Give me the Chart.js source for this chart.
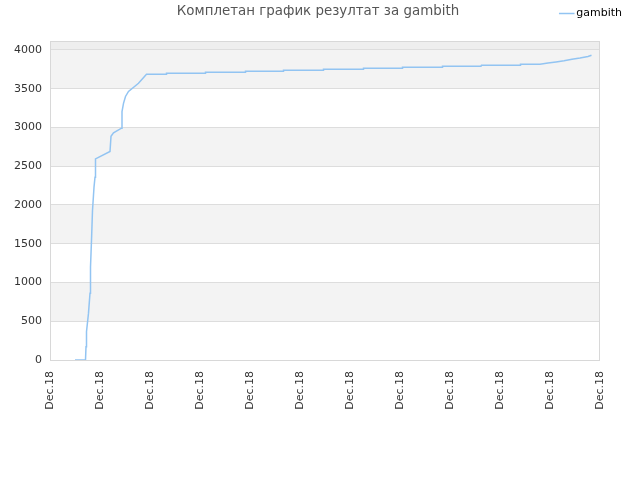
<!DOCTYPE html>
<html lang="sr">
<head>
    <meta charset="UTF-8">
    <title>Комплетан график резултат за gambith</title>
    <style>
        body { margin: 0; padding: 0; background: #ffffff; }
        #wrap { width: 640px; height: 480px; position: relative; }
    </style>
</head>
<body>
    <div id="wrap"><canvas id="scoreChart" width="640" height="480"></canvas></div>
    <script src="https://cdn.jsdelivr.net/npm/chart.js"></script>
    <script>
        // podaci procitani sa slike (x = pozicija u danima, y = rezultat)
        const chartTitle = 'Комплетан график резултат за gambith';
        const seriesName = 'gambith';
        const tickLabels = ['Dec.18', 'Dec.18', 'Dec.18', 'Dec.18', 'Dec.18', 'Dec.18',
                            'Dec.18', 'Dec.18', 'Dec.18', 'Dec.18', 'Dec.18', 'Dec.18'];
        const yTicks = [0, 500, 1000, 1500, 2000, 2500, 3000, 3500, 4000];
        const xValues = [0.5, 0.71, 0.72, 0.73, 0.77, 0.80, 0.81, 0.83, 0.85, 0.88, 0.90, 0.91,
                         1.20, 1.22, 1.27, 1.43, 1.44, 1.47, 1.51, 1.57, 1.77, 1.93,
                         2.32, 2.33, 3.10, 3.11, 3.90, 3.91, 4.66, 4.67, 5.46, 5.47, 6.26, 6.27,
                         7.04, 7.05, 7.84, 7.85, 8.62, 8.63, 9.40, 9.41, 9.80,
                         9.96, 10.12, 10.28, 10.44, 10.60, 10.76, 10.83];
        const yValues = [0, 0, 170, 364, 604, 862, 1200, 1543, 1929, 2229, 2358, 2594,
                         2690, 2885, 2930, 2990, 3205, 3310, 3400, 3465, 3570, 3687,
                         3687, 3700, 3700, 3712, 3712, 3725, 3725, 3738, 3738, 3751, 3751, 3764,
                         3764, 3777, 3777, 3790, 3790, 3803, 3803, 3816, 3816,
                         3830, 3845, 3860, 3880, 3895, 3915, 3931];

        const points = xValues.map((x, i) => ({ x: x, y: yValues[i] }));

        // trake u pozadini, okvir i naslov
        const bandsPlugin = {
            id: 'bands',
            beforeDraw(chart) {
                const ctx = chart.ctx;
                const area = chart.chartArea;
                const y = chart.scales.y;
                ctx.save();
                for (let v = 0; v < y.max; v += 500) {
                    const top = Math.max(y.getPixelForValue(Math.min(v + 500, y.max)), area.top);
                    const bottom = y.getPixelForValue(v);
                    let color = (v / 500) % 2 === 1 ? '#f3f3f3' : '#ffffff';
                    if (v >= 4000) color = '#eeeeee';
                    ctx.fillStyle = color;
                    ctx.fillRect(area.left, top, area.right - area.left, bottom - top);
                }
                ctx.restore();
            },
            afterDraw(chart) {
                const ctx = chart.ctx;
                const area = chart.chartArea;
                ctx.save();
                ctx.strokeStyle = '#d8d8d8';
                ctx.lineWidth = 1;
                ctx.strokeRect(area.left + 0.5, area.top + 0.5, area.right - area.left - 1, area.bottom - area.top);
                ctx.fillStyle = '#555555';
                ctx.font = '13.4px "DejaVu Sans", sans-serif';
                ctx.textAlign = 'center';
                ctx.textBaseline = 'middle';
                ctx.fillText(chartTitle, 318, 12);
                ctx.restore();
            }
        };

        const ctx = document.getElementById('scoreChart').getContext('2d');
        new Chart(ctx, {
            type: 'line',
            data: {
                datasets: [{
                    label: seriesName,
                    data: points,
                    borderColor: '#92c4f2',
                    backgroundColor: '#92c4f2',
                    borderWidth: 1.5,
                    pointRadius: 0,
                    tension: 0,
                    fill: false
                }]
            },
            plugins: [bandsPlugin],
            options: {
                responsive: false,
                animation: false,
                layout: { padding: { left: 0, right: 10, top: 0, bottom: 0 } },
                plugins: {
                    title: { display: false },
                    tooltip: { enabled: false },
                    legend: {
                        display: true,
                        position: 'top',
                        align: 'end',
                        labels: {
                            usePointStyle: true,
                            pointStyle: 'line',
                            boxWidth: 8,
                            color: '#000000',
                            padding: 8,
                            font: { family: '"DejaVu Sans", sans-serif', size: 11 }
                        }
                    }
                },
                scales: {
                    x: {
                        type: 'linear',
                        min: 0,
                        max: 11,
                        grid: { display: false },
                        border: { display: false },
                        afterFit(scale) { scale.height = 120; },
                        ticks: {
                            stepSize: 1,
                            maxRotation: 90,
                            minRotation: 90,
                            color: '#333333',
                            font: { family: '"DejaVu Sans", sans-serif', size: 11 },
                            callback: (value) => tickLabels[value]
                        }
                    },
                    xTop: {
                        type: 'linear',
                        position: 'top',
                        min: 0,
                        max: 11,
                        grid: { display: false },
                        border: { display: false },
                        ticks: { display: false },
                        afterFit(scale) { scale.height = 12; }
                    },
                    y: {
                        min: 0,
                        max: 4115,
                        grid: { color: '#dddddd', drawTicks: false },
                        border: { display: false },
                        afterFit(scale) { scale.width = 50; },
                        afterBuildTicks(scale) { scale.ticks = yTicks.map(v => ({ value: v })); },
                        ticks: {
                            padding: 8,
                            color: '#333333',
                            font: { family: '"DejaVu Sans", sans-serif', size: 11 },
                            callback: (value) => String(value)
                        }
                    },
                    yRight: {
                        position: 'right',
                        display: true,
                        min: 0,
                        max: 4115,
                        grid: { display: false },
                        border: { display: false },
                        ticks: { display: false },
                        afterFit(scale) { scale.width = 30; }
                    }
                }
            }
        });
    </script>
</body>
</html>
